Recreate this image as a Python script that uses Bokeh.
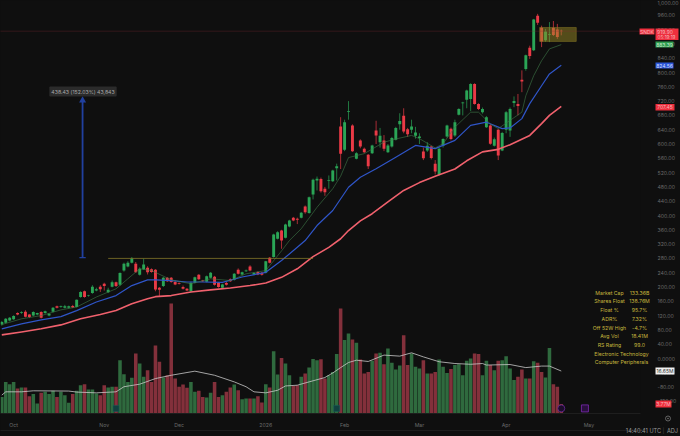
from bokeh.plotting import figure
from bokeh.layouts import column
from bokeh.models import (Range1d, LinearAxis, FixedTicker, Label, ColumnDataSource)
from bokeh.embed import file_html
from bokeh.resources import INLINE

# ---- data ----
opens = [95,100,106,110,127,128,131,123,120,123,130,127,120,131,146,144,142,142,147,144,172,188,175,183,190,201,209,185,201,213,
         206,246,257,268,265,234,250,254,250,248,198,203,226,226,214,211,200,195,188,212,234,218,215,226,229,212,198,211,222,220,
         248,235,244,257,235,242,240,240,282,284,335,358,338,369,394,391,394,425,407,459,498,502,475,497,496,532,649,584,690,652,
         559,610,587,570,574,638,605,610,577,593,612,655,679,641,640,623,617,579,582,593,545,514,595,621,643,624,682,714,724,726,
         768,712,689,647,652,595,640,582,640,638,715,712,780,810,869,862,959,925,890,905,925,920,917]
closes = [102,111,114,119,123,130,117,116,130,127,114,132,125,142,142,146,146,146,143,164,186,172,176,201,194,194,203,192,213,203,
          239,265,268,280,241,251,263,241,242,193,192,226,216,214,207,209,195,190,212,227,222,216,230,240,206,200,207,206,216,237,
          237,241,246,246,239,235,234,272,268,347,353,330,375,386,386,388,408,409,451,500,503,468,465,499,526,538,573,661,692,580,
          574,593,577,538,596,624,623,587,596,617,645,664,635,627,649,632,621,560,595,561,523,587,614,652,614,661,698,716,750,768,
          712,698,698,675,601,613,568,631,689,698,720,706,775,848,846,948,939,887,915,907,905,899,915.6]
highs = [105,113,116,121,129,132,135,124,132,128,132,134,127,144,148,148,150,148,150,165,188,190,178,205,198,205,212,198,218,215,
         241,268,272,284,270,255,279,258,252,250,200,228,228,228,218,213,204,197,215,229,236,220,232,242,231,214,209,214,224,239,
         252,243,249,261,241,244,242,273,284,349,356,360,377,388,396,394,410,428,453,503,509,506,480,512,528,545,675,668,720,655,
         577,613,590,572,598,665,645,625,600,620,648,686,700,645,668,648,630,590,605,595,555,590,616,654,646,668,700,718,752,770,
         770,714,702,678,655,618,642,634,692,702,733,740,806,850,875,950,964,931,922,941,944,936,920]
lows = [92,98,104,108,121,125,115,113,118,121,112,125,118,129,140,142,140,140,141,143,170,170,173,181,188,186,190,183,199,200,
        203,243,255,266,240,232,248,235,240,188,175,200,214,212,205,207,193,188,186,210,220,214,213,224,204,198,196,204,214,218,
        235,233,242,244,233,233,232,238,266,282,333,307,336,367,384,376,392,405,405,445,470,464,455,475,494,498,530,580,668,578,
        557,588,575,530,572,600,590,580,575,590,610,640,630,620,630,615,600,555,578,557,515,512,590,618,610,620,680,680,700,692,
        710,695,685,645,598,593,555,580,630,620,703,680,745,805,838,860,933,871,886,885,902,894,904]
volumes = [6.5,12.4,11.5,12.4,9.8,10.2,10.2,6.8,7.6,3.9,8.1,8.5,7.6,8.9,6.5,8.5,7.2,4.2,7.6,8.9,11.1,11.5,9.4,9.4,7.8,7.2,11.1,10.2,10.5,10.5,
           20.9,15.4,12.4,14.0,23.5,19.6,14.4,17.0,12.4,26.7,20.3,14.1,15.0,43.1,13.7,10.5,11.4,10.1,12.4,8.5,8.9,6.5,6.3,8.1,12.4,6.5,7.2,8.5,10.2,11.4,
           9.1,5.6,5.9,5.9,5.9,6.8,4.3,11.5,10.2,24.4,15.3,21.8,19.6,15.0,10.8,11.1,14.4,15.7,18.0,21.4,20.9,21.3,13.7,15.0,16.3,23.3,41.2,
           28.8,31.4,29.0,27.7,21.2,15.7,16.3,20.7,23.5,23.8,19.3,25.5,19.9,17.3,18.8,30.7,19.0,23.5,18.3,17.6,20.9,15.7,15.7,16.3,21.2,18.3,15.9,17.5,19.0,19.3,
           15.0,20.7,21.6,23.5,23.3,15.0,20.7,19.0,17.0,20.7,20.9,22.5,17.6,
           13.1,14.4,17.3,13.7,13.7,20.5,19.9,16.3,14.1,25.7,11.5,10.5,3.77]
assert len(opens) == len(closes) == len(highs) == len(lows) == len(volumes), (len(opens), len(closes), len(highs), len(lows), len(volumes))

avgvol_i = [0,1,5,8,17,19,24,29,31,35,39,43,49,54,59,62,64,67,70,72,75,78,82,84,86,88,90,93,97,101,104,107,111,115,119,122,123,129,131,133,137,139,142]
avgvol_v = [7.2,8.5,8.5,8.9,8.8,8.4,8.1,8.5,10.5,11.5,13.7,15.0,16.6,15.0,12.4,10.5,8.5,8.1,9.1,10.8,11.1,12.4,14.1,15.9,18.0,20.0,20.9,20.4,22.9,22.5,23.8,22.2,20.3,19.6,19.3,19.6,19.0,19.2,18.6,18.0,18.6,18.6,16.65]

ma_slow_i = [0,5,10,15,20,25,29,33,37,39,43,48,53,58,63,67,71,75,79,83,86,88,91,94,98,102,106,110,115,118,122,126,129,134,137,139,142]
ma_slow_v = [66,74,83,94,111,123,134,153,167,173,176,186,192,197,204,211,227,251,285,311,335,358,385,405,438,470,492,510,530,553,578,585,598,624,657,680,705]
ma_mid_i = [0,5,10,15,19,24,29,33,37,39,43,47,51,56,61,67,71,75,77,80,84,88,91,95,100,105,110,115,119,123,127,129,132,134,137,139,142]
ma_mid_v = [83,97,108,117,134,158,176,204,220,220,218,214,214,213,228,241,274,311,330,372,414,479,507,531,563,596,587,610,652,661,643,645,671,713,763,796,820]
ma_fast_i = [0,5,10,15,19,24,29,32,35,38,43,48,53,58,62,67,71,73,76,80,84,86,88,92,97,100,104,106,110,112,115,119,121,124,126,129,132,133,135,137,139,142]
ma_fast_v = [95,111,120,136,144,172,195,223,251,246,220,209,223,218,237,246,301,330,363,423,475,510,562,573,605,614,624,615,589,601,647,689,689,656,643,666,689,735,791,833,866,878]

price_ticks = [1000,960,920,880,840,800,760,720,680,640,600,560,520,480,440,400,360,320,280,240,200,160,120,80,40,0,-40,-80,-120]
price_labels = ["1,000.00","960.00","920.00","880.00","840.00","800.00","760.00","720.00","680.00","640.00","600.00","560.00","520.00","480.00","440.00","400.00","360.00","320.00","280.00","240.00","200.00","160.00","120.00","80.00","40.00","0.0000","-40.00","-80.00","-120.00"]
month_ticks = [3,26,45,67,87,106,128,149]
month_labels = ["Oct","Nov","Dec","2026","Feb","Mar","Apr","May"]

stat_names = ["Market Cap","Shares Float","Float %","ADR%","Off 52W High","Avg Vol","RS Rating"]
stat_values = ["133.36B","138.76M","95.7%","7.32%","-4.7%","18.41M","99.0"]
sector_lines = ["Electronic Technology","Computer Peripherals"]

BG = "#0f0f0f"; UP = "#2aa556"; DOWN = "#ea3a46"; VUP = "#2f6a3e"; VDOWN = "#83303b"
FONT = "Inter"; YEL = "#c8b83e"; GREY = "#6a6a6a"

W, H = 680, 436
PX_PER_BAR = 3.94
FRAME_R, FRAME_B = 640, 413
PX_PER_USD = 0.3575
x0 = -1.3 / PX_PER_BAR
p = figure(frame_width=FRAME_R, frame_height=FRAME_B, output_backend="svg", toolbar_location=None,
           x_range=Range1d(x0, x0 + FRAME_R / PX_PER_BAR),
           y_range=Range1d((358 - FRAME_B) / PX_PER_USD, 358 / PX_PER_USD),
           min_border_left=0, min_border_right=W - FRAME_R, min_border_top=0, min_border_bottom=H - FRAME_B,
           background_fill_color=BG, border_fill_color=BG, outline_line_color=None)
p.extra_y_ranges["vol"] = Range1d(0, FRAME_B / 2.55)
p.grid.visible = False
p.xaxis.visible = False
p.yaxis.visible = False

# axes
rax = LinearAxis(ticker=FixedTicker(ticks=price_ticks),
                 major_label_overrides={t: l for t, l in zip(price_ticks, price_labels)},
                 major_tick_line_color=None, minor_tick_line_color=None, axis_line_color=None,
                 major_label_text_color=GREY, major_label_text_font=FONT,
                 major_label_text_font_size="5.2px", major_label_standoff=11)
p.add_layout(rax, "right")
bax = LinearAxis(ticker=FixedTicker(ticks=month_ticks),
                 major_label_overrides={t: l for t, l in zip(month_ticks, month_labels)},
                 major_tick_line_color=None, minor_tick_line_color=None, axis_line_color="#1e1e1e",
                 major_label_text_color=GREY, major_label_text_font=FONT,
                 major_label_text_font_size="5.2px", major_label_standoff=2)
p.add_layout(bax, "below")
sep = LinearAxis(ticker=FixedTicker(ticks=[]), major_tick_line_color=None, minor_tick_line_color=None,
                 axis_line_color="#1e1e1e", major_label_text_font_size="0px", major_label_standoff=0)
p.add_layout(sep, "below")

# data
n = len(opens)
idx = list(range(n))
up = [c >= o for o, c in zip(opens, closes)]
src = ColumnDataSource(dict(
    x=idx, o=opens, c=closes, h=highs, l=lows, v=volumes,
    top=[max(a, b) for a, b in zip(opens, closes)],
    bot=[min(a, b) for a, b in zip(opens, closes)],
    col=[UP if u else DOWN for u in up],
    vcol=[VUP if u else VDOWN for u in up]))

p.vbar(x="x", width=0.9, top="v", bottom=0, source=src, fill_color="vcol", line_color=None, y_range_name="vol")
p.line(avgvol_i, avgvol_v, line_color="#c9c9c9", line_width=0.8, y_range_name="vol")

p.segment(x0="x", x1="x", y0="l", y1="h", source=src, line_color="col", line_width=0.7)
p.vbar(x="x", width=0.74, top="top", bottom="bot", source=src, fill_color="col", line_color=None)

p.line(ma_slow_i, ma_slow_v, line_color="#f0616d", line_width=1.6, line_join="round")
p.line(ma_mid_i, ma_mid_v, line_color="#2f55c8", line_width=1.2, line_join="round")
p.line(ma_fast_i, ma_fast_v, line_color="#3f7a4a", line_width=0.6, line_join="round")

# drawings
p.segment(x0=[27], x1=[79], y0=[280], y1=[280], line_color="#84762a", line_width=0.8)
p.quad(left=[136.5], right=[145.8], top=[926], bottom=[887], fill_color="#9a8a25", fill_alpha=0.5,
       line_color="#8a7b25", line_width=0.5)
p.segment(x0=[x0], x1=[x0 + FRAME_R / PX_PER_BAR], y0=[915.6], y1=[915.6], line_color="#8a2a35",
          line_width=0.6, line_dash="1 1")
p.segment(x0=[20.5], x1=[20.5], y0=[282], y1=[722], line_color="#21409f", line_width=1.8)
p.segment(x0=[19.7], x1=[21.3], y0=[282], y1=[282], line_color="#21409f", line_width=1.2)
p.scatter(x=[20.5], y=[722], marker="triangle", size=7, fill_color="#21409f", line_color=None)

# event markers
p.scatter(x=[29, 85.0], y=[2, 2], marker="square", size=6, fill_color="#11403f", line_color="#155e5c",
          line_width=0.5, y_range_name="vol")
p.scatter(x=[142], y=[2], marker="circle", size=7, fill_color="#1c0d2a", line_color="#6a2b9a",
          line_width=0.8, y_range_name="vol")
p.scatter(x=[148], y=[2], marker="square", size=7, fill_color="#2a0f3e", line_color="#7d2bb5",
          line_width=0.8, y_range_name="vol")

# full-canvas transparent layer for the tags, the stats table and the footer
q = figure(frame_width=W, frame_height=H, output_backend="svg", toolbar_location=None,
           x_range=Range1d(0, W), y_range=Range1d(H, 0),
           min_border_left=0, min_border_right=0, min_border_top=0, min_border_bottom=0,
           background_fill_color=None, border_fill_color=None, outline_line_color=None)
q.grid.visible = False
q.xaxis.visible = False
q.yaxis.visible = False
q.styles = {"position": "absolute", "left": "0px", "top": "0px", "pointer-events": "none"}


def box(left, right, top, bottom, color):
    q.quad(left=[left], right=[right], top=[top], bottom=[bottom], fill_color=color, line_color=None)


def txt(text, x, y, color, size=5.0, align="center", bg=None, pad=0, radius=0):
    kw = {}
    if bg is not None:
        kw = dict(background_fill_color=bg, padding=pad, border_radius=radius)
    q.add_layout(Label(text=text, x=x, y=H - y, x_units="screen", y_units="screen",
                       text_color=color, text_font=FONT, text_font_size=f"{size}px",
                       text_align=align, text_baseline="middle", **kw))


RED_TAG = "#ee2f3d"; TAG_TXT = "#f5b5ba"
# measure box
txt("438.43 (152.03%) 43,843", 82.5, 91, "#a8a8a8", size=5.2, bg="#2b2b2b", pad=2, radius=1)

# price tags
box(639, 654, 28, 34, RED_TAG)
box(655, 678, 28, 39.5, RED_TAG)
box(655, 673, 41, 47, "#2f9e4f")
box(655, 673, 62, 68, "#2b56d8")
box(655, 674, 103.5, 110, RED_TAG)
box(655, 674, 367, 374, "#f0f0f0")
box(655, 671, 400, 407, RED_TAG)
txt("SNDK", 646.5, 31, TAG_TXT)
txt("919.90", 664.5, 31, TAG_TXT)
txt("05:19:19", 666, 36.5, TAG_TXT, size=4.6)
txt("883.39", 664, 44, "#c7e8cf")
txt("824.56", 664, 65, "#d3ddfb")
txt("707.45", 664.5, 106.7, TAG_TXT)
txt("16.65M", 664.5, 370.5, "#333333")
txt("3.77M", 663, 403.5, TAG_TXT)

# stats table
rows_y = [292, 300.7, 309.3, 318.3, 327, 335.7, 344.3]
for nm, val, yy in zip(stat_names, stat_values, rows_y):
    txt(nm, 609, yy, YEL, size=5.2)
    txt(val, 639, yy, YEL, size=5.2)
for line, yy in zip(sector_lines, [353, 361.7]):
    txt(line, 621, yy, YEL, size=5.2)

# footer
txt("14:40:41 UTC", 643, 430.5, "#9a9a9a", size=5.6)
txt("|", 663, 430.5, "#444444", size=5.6)
txt("ADJ", 672, 430.5, "#9a9a9a", size=5.6)
q.scatter(x=[667.5], y=[418], marker="circle", size=5, fill_color=None, line_color="#777777", line_width=0.8)
q.scatter(x=[667.5], y=[418], marker="circle", size=1.5, fill_color="#777777", line_color=None)

html = file_html(column(p, q, spacing=0), INLINE)
html = html.replace("<head>", "<head><style>html,body{margin:0;padding:0;background:#0f0f0f}</style>", 1)
open("out.html", "w").write(html)
